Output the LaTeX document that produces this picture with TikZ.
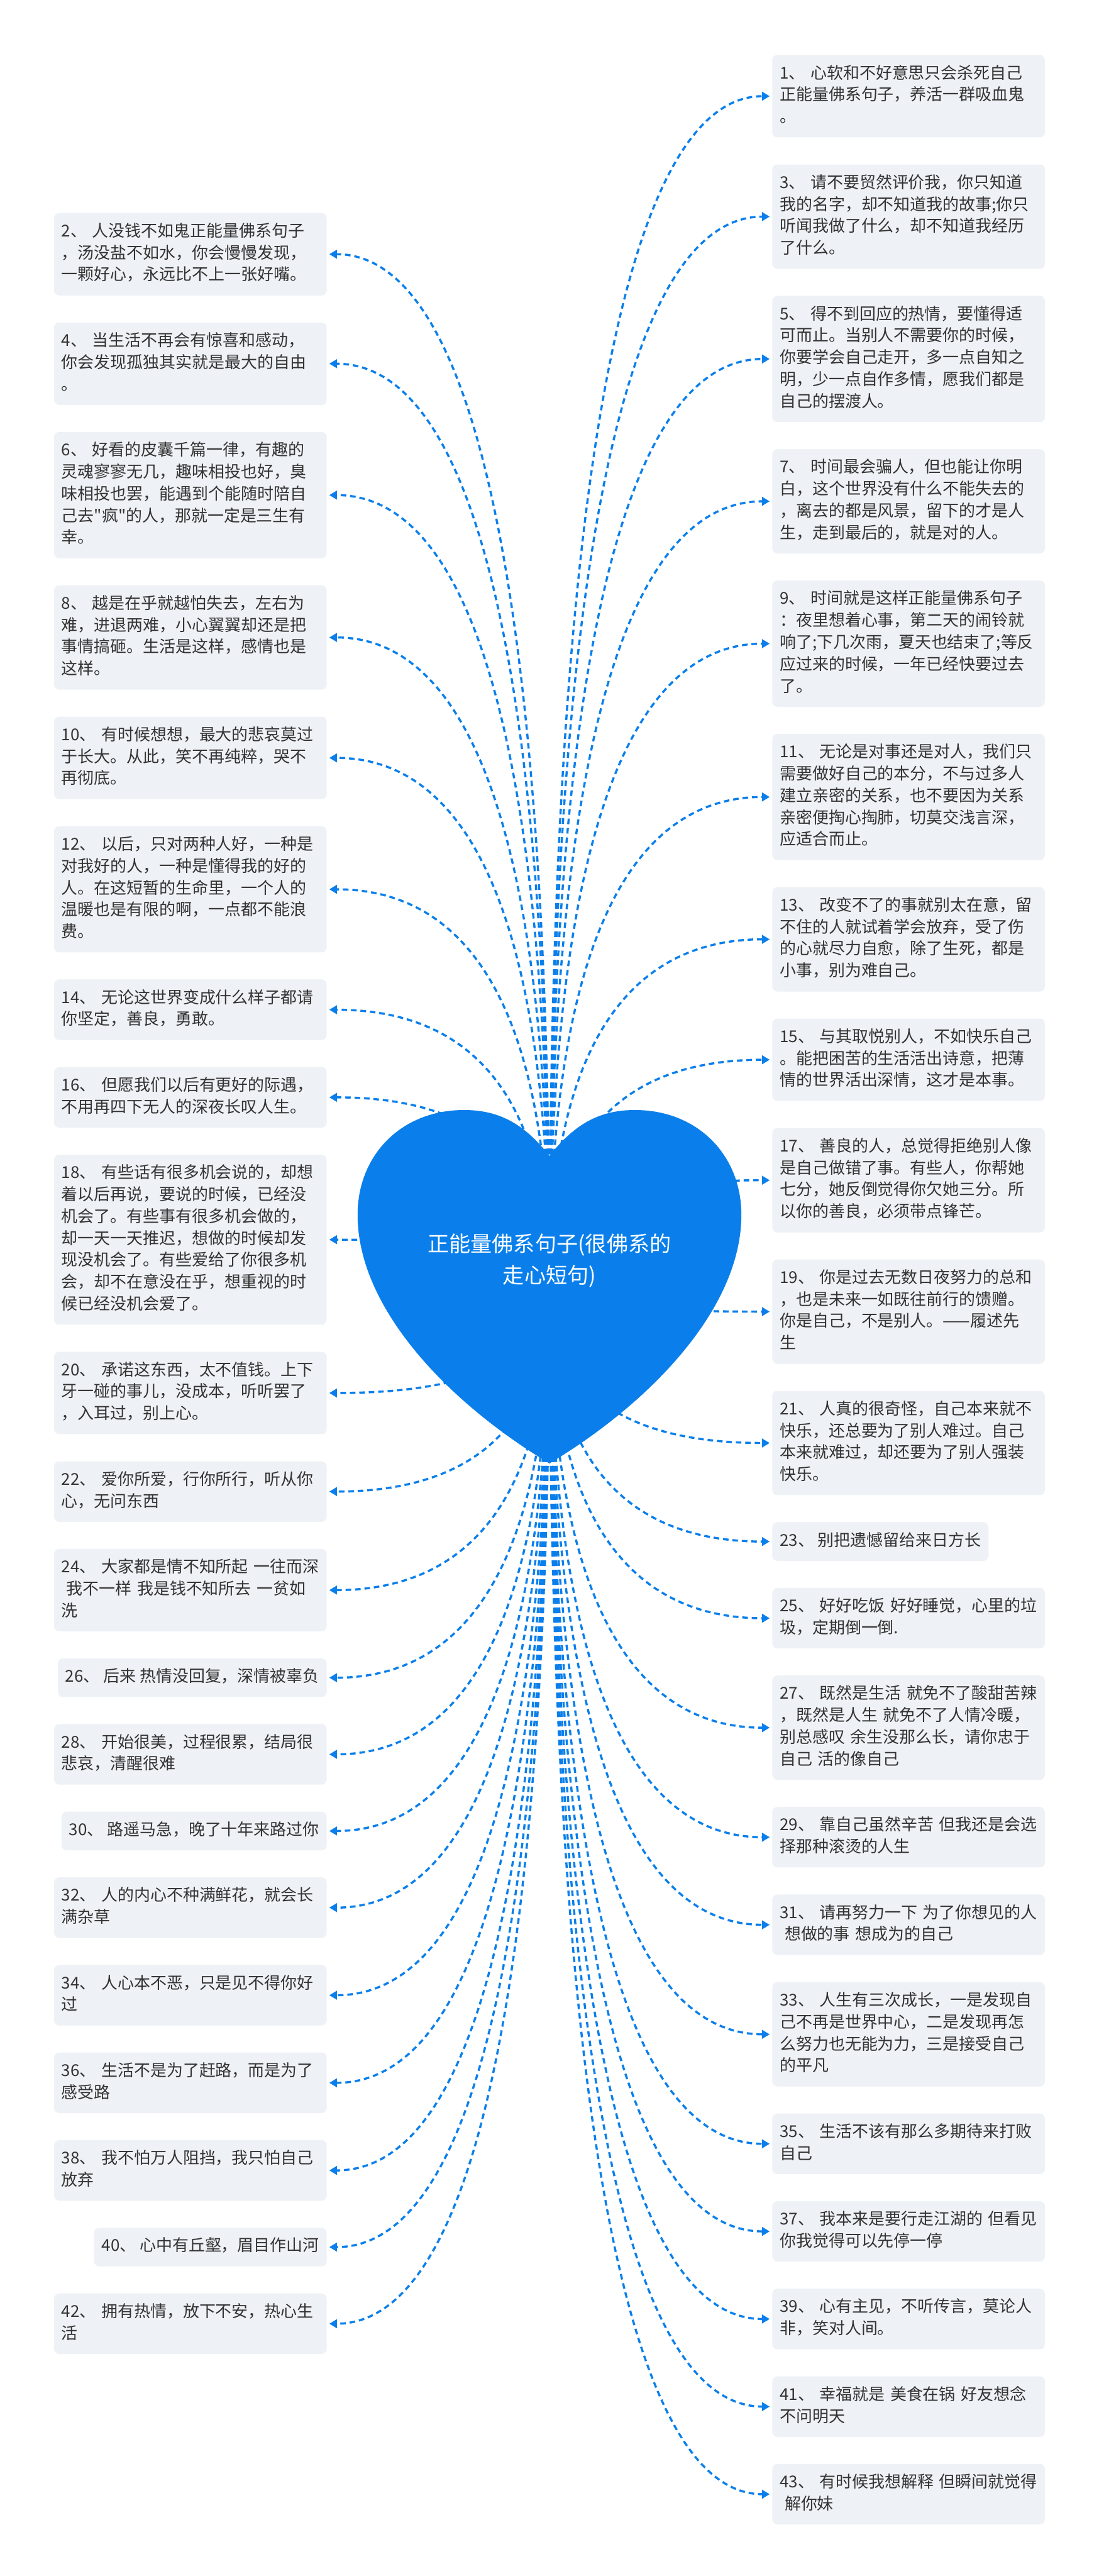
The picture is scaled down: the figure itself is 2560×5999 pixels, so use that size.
\documentclass[tikz,border=0pt]{standalone}
\usepackage{fontspec}
\newfontfamily\cjk{Noto Sans CJK SC}
\usetikzlibrary{arrows.meta,positioning,calc}
\definecolor{boxbg}{HTML}{EEF1F5}
\definecolor{txt}{HTML}{333333}
\definecolor{heartblue}{HTML}{0A7FEB}
\tikzset{
  qbox/.style  = {rounded corners=1.2mm, fill=boxbg, text=txt, align=left,
                  inner xsep=1.75mm, inner ysep=1.95mm, outer sep=0pt,
                  font=\cjk\fontsize{3.8mm}{5.1mm}\selectfont,
                  execute at begin node=\strut, execute at end node=\strut},
  wbox/.style  = {qbox, text width=60mm},
  link/.style  = {draw=heartblue, line width=0.5mm, dash pattern=on 1.3mm off 0.9mm,
                  -{Triangle[length=1.8mm,width=2mm]}, shorten >=0.6mm},
  title/.style = {text=white, align=center, font=\cjk\fontsize{5mm}{7.4mm}\selectfont},
}

\begin{document}
\begin{tikzpicture}[x=0.1mm, y=-0.1mm, node distance=6.3mm]
  \fill[white] (0,0) rectangle (2560,5999);
  \coordinate (hc) at (1280,2996);

  % left column
  \node[wbox, anchor=north east] (l2) at (761,496) {2、 人没钱不如鬼正能量佛系句子\\，汤没盐不如水，你会慢慢发现，\\一颗好心，永远比不上一张好嘴。};
  \node[wbox, below=of l2.south east, anchor=north east] (l4) {4、 当生活不再会有惊喜和感动，\\你会发现孤独其实就是最大的自由\\。};
  \node[wbox, below=of l4.south east, anchor=north east] (l6) {6、 好看的皮囊千篇一律，有趣的\\灵魂寥寥无几，趣味相投也好，臭\\味相投也罢，能遇到个能随时陪自\\己去"疯"的人，那就一定是三生有\\幸。};
  \node[wbox, below=of l6.south east, anchor=north east] (l8) {8、 越是在乎就越怕失去，左右为\\难，进退两难，小心翼翼却还是把\\事情搞砸。生活是这样，感情也是\\这样。};
  \node[wbox, below=of l8.south east, anchor=north east] (l10) {10、 有时候想想，最大的悲哀莫过\\于长大。从此，笑不再纯粹，哭不\\再彻底。};
  \node[wbox, below=of l10.south east, anchor=north east] (l12) {12、 以后，只对两种人好，一种是\\对我好的人，一种是懂得我的好的\\人。在这短暂的生命里，一个人的\\温暖也是有限的啊，一点都不能浪\\费。};
  \node[wbox, below=of l12.south east, anchor=north east] (l14) {14、 无论这世界变成什么样子都请\\你坚定，善良，勇敢。};
  \node[wbox, below=of l14.south east, anchor=north east] (l16) {16、 但愿我们以后有更好的际遇，\\不用再四下无人的深夜长叹人生。};
  \node[wbox, below=of l16.south east, anchor=north east] (l18) {18、 有些话有很多机会说的，却想\\着以后再说，要说的时候，已经没\\机会了。有些事有很多机会做的，\\却一天一天推迟，想做的时候却发\\现没机会了。有些爱给了你很多机\\会，却不在意没在乎，想重视的时\\候已经没机会爱了。};
  \node[wbox, below=of l18.south east, anchor=north east] (l20) {20、 承诺这东西，太不值钱。上下\\牙一碰的事儿，没成本，听听罢了\\，入耳过，别上心。};
  \node[wbox, below=of l20.south east, anchor=north east] (l22) {22、 爱你所爱，行你所行，听从你\\心，无问东西};
  \node[wbox, below=of l22.south east, anchor=north east] (l24) {24、 大家都是情不知所起 一往而深\\\hspace*{.3em}我不一样 我是钱不知所去 一贫如\\洗};
  \node[qbox, below=of l24.south east, anchor=north east] (l26) {26、 后来 热情没回复，深情被辜负};
  \node[wbox, below=of l26.south east, anchor=north east] (l28) {28、 开始很美，过程很累，结局很\\悲哀，清醒很难};
  \node[qbox, below=of l28.south east, anchor=north east] (l30) {30、 路遥马急，晚了十年来路过你};
  \node[wbox, below=of l30.south east, anchor=north east] (l32) {32、 人的内心不种满鲜花，就会长\\满杂草};
  \node[wbox, below=of l32.south east, anchor=north east] (l34) {34、 人心本不恶，只是见不得你好\\过};
  \node[wbox, below=of l34.south east, anchor=north east] (l36) {36、 生活不是为了赶路，而是为了\\感受路};
  \node[wbox, below=of l36.south east, anchor=north east] (l38) {38、 我不怕万人阻挡，我只怕自己\\放弃};
  \node[qbox, below=of l38.south east, anchor=north east] (l40) {40、 心中有丘壑，眉目作山河};
  \node[wbox, below=of l40.south east, anchor=north east] (l42) {42、 拥有热情，放下不安，热心生\\活};

  % right column
  \node[wbox, anchor=north west] (r1) at (1799,128) {1、 心软和不好意思只会杀死自己\\正能量佛系句子，养活一群吸血鬼\\。};
  \node[wbox, below=of r1.south west, anchor=north west] (r3) {3、 请不要贸然评价我，你只知道\\我的名字，却不知道我的故事;你只\\听闻我做了什么，却不知道我经历\\了什么。};
  \node[wbox, below=of r3.south west, anchor=north west] (r5) {5、 得不到回应的热情，要懂得适\\可而止。当别人不需要你的时候，\\你要学会自己走开，多一点自知之\\明，少一点自作多情，愿我们都是\\自己的摆渡人。};
  \node[wbox, below=of r5.south west, anchor=north west] (r7) {7、 时间最会骗人，但也能让你明\\白，这个世界没有什么不能失去的\\，离去的都是风景，留下的才是人\\生，走到最后的，就是对的人。};
  \node[wbox, below=of r7.south west, anchor=north west] (r9) {9、 时间就是这样正能量佛系句子\\：夜里想着心事，第二天的闹铃就\\响了;下几次雨，夏天也结束了;等反\\应过来的时候，一年已经快要过去\\了。};
  \node[wbox, below=of r9.south west, anchor=north west] (r11) {11、 无论是对事还是对人，我们只\\需要做好自己的本分，不与过多人\\建立亲密的关系，也不要因为关系\\亲密便掏心掏肺，切莫交浅言深，\\应适合而止。};
  \node[wbox, below=of r11.south west, anchor=north west] (r13) {13、 改变不了的事就别太在意，留\\不住的人就试着学会放弃，受了伤\\的心就尽力自愈，除了生死，都是\\小事，别为难自己。};
  \node[wbox, below=of r13.south west, anchor=north west] (r15) {15、 与其取悦别人，不如快乐自己\\。能把困苦的生活活出诗意，把薄\\情的世界活出深情，这才是本事。};
  \node[wbox, below=of r15.south west, anchor=north west] (r17) {17、 善良的人，总觉得拒绝别人像\\是自己做错了事。有些人，你帮她\\七分，她反倒觉得你欠她三分。所\\以你的善良，必须带点锋芒。};
  \node[wbox, below=of r17.south west, anchor=north west] (r19) {19、 你是过去无数日夜努力的总和\\，也是未来一如既往前行的馈赠。\\你是自己，不是别人。——履述先\\生};
  \node[wbox, below=of r19.south west, anchor=north west] (r21) {21、 人真的很奇怪，自己本来就不\\快乐，还总要为了别人难过。自己\\本来就难过，却还要为了别人强装\\快乐。};
  \node[qbox, below=of r21.south west, anchor=north west] (r23) {23、 别把遗憾留给来日方长};
  \node[wbox, below=of r23.south west, anchor=north west] (r25) {25、 好好吃饭 好好睡觉，心里的垃\\圾，定期倒一倒.};
  \node[wbox, below=of r25.south west, anchor=north west] (r27) {27、 既然是生活 就免不了酸甜苦辣\\，既然是人生 就免不了人情冷暖，\\别总感叹 余生没那么长，请你忠于\\自己 活的像自己};
  \node[wbox, below=of r27.south west, anchor=north west] (r29) {29、 靠自己虽然辛苦 但我还是会选\\择那种滚烫的人生};
  \node[wbox, below=of r29.south west, anchor=north west] (r31) {31、 请再努力一下 为了你想见的人\\\hspace*{.3em}想做的事 想成为的自己};
  \node[wbox, below=of r31.south west, anchor=north west] (r33) {33、 人生有三次成长，一是发现自\\己不再是世界中心，二是发现再怎\\么努力也无能为力，三是接受自己\\的平凡};
  \node[wbox, below=of r33.south west, anchor=north west] (r35) {35、 生活不该有那么多期待来打败\\自己};
  \node[wbox, below=of r35.south west, anchor=north west] (r37) {37、 我本来是要行走江湖的 但看见\\你我觉得可以先停一停};
  \node[wbox, below=of r37.south west, anchor=north west] (r39) {39、 心有主见，不听传言，莫论人\\非，笑对人间。};
  \node[wbox, below=of r39.south west, anchor=north west] (r41) {41、 幸福就是 美食在锅 好友想念\\不问明天};
  \node[wbox, below=of r41.south west, anchor=north west] (r43) {43、 有时候我想解释 但瞬间就觉得\\\hspace*{.3em}解你妹};

  % links from the heart
  \foreach \i in {2,4,...,42}
    \draw[link] (hc) .. controls ($(hc)!2/3!(hc |- l\i.east)$) and ($(l\i.east)!2/3!(hc |- l\i.east)$) .. (l\i.east);
  \foreach \i in {1,3,...,43}
    \draw[link] (hc) .. controls ($(hc)!2/3!(hc |- r\i.west)$) and ($(r\i.west)!2/3!(hc |- r\i.west)$) .. (r\i.west);

  % heart
  \fill[heartblue] (1280,2692) .. controls (1220,2615) and (1160,2585) .. (1081,2585)
    .. controls (935,2585) and (833,2690) .. (833,2829)
    .. controls (833,3050) and (1050,3270) .. (1280,3408)
    .. controls (1510,3270) and (1727,3050) .. (1727,2829)
    .. controls (1727,2690) and (1625,2585) .. (1479,2585)
    .. controls (1400,2585) and (1340,2615) .. (1280,2692) -- cycle;
  \node[title] (root) at (1280,2936) {正能量佛系句子(很佛系的\\走心短句)};
\end{tikzpicture}
\end{document}
